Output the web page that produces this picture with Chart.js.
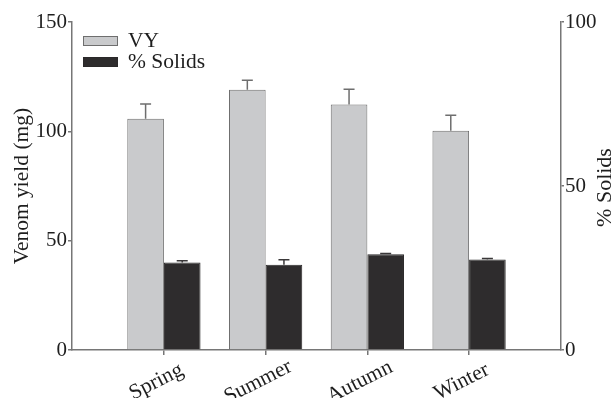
<!DOCTYPE html>
<html>
<head>
<meta charset="utf-8">
<script src="https://cdn.jsdelivr.net/npm/chart.js@4"></script>
<style>
  html, body { margin: 0; padding: 0; background: #fff; }
  #wrap { width: 611px; height: 398px; }
</style>
</head>
<body>
<div id="wrap"><canvas id="c" width="611" height="398"></canvas></div>
<script>
// Seasonal venom yield (mg) and percentage of solids, mean with upper SE bars
const seasons = ['Spring', 'Summer', 'Autumn', 'Winter'];
const venomYield = [105.8, 119.0, 112.3, 100.3];
const venomYieldErr = [6.7, 4.4, 7.0, 7.1];
const solidsPct = [26.7, 26.0, 29.2, 27.6];
const solidsPctErr = [0.5, 1.5, 0.2, 0.3];
const yieldTicks = [0, 50, 100, 150];
const solidsTicks = [0, 50, 100];

const SERIF = '"Liberation Serif", "Times New Roman", serif';
const AXIS_GREY = '#767676';
const TEXT = '#1e1e1e';
const LABEL_SIZE = 21.5;

// Upper-only error bars with a cap
const errorBars = {
  id: 'errorBars',
  afterDatasetsDraw(chart) {
    const ctx = chart.ctx;
    chart.data.datasets.forEach((ds, di) => {
      const meta = chart.getDatasetMeta(di);
      const yScale = chart.scales[ds.yAxisID];
      meta.data.forEach((bar, i) => {
        const v = ds.data[i].y, e = ds.errors[i];
        const yTop = yScale.getPixelForValue(v + e);
        ctx.save();
        ctx.strokeStyle = ds.errorColor;
        ctx.lineWidth = 1.5;
        ctx.beginPath();
        ctx.moveTo(bar.x, bar.y);
        ctx.lineTo(bar.x, yTop);
        ctx.moveTo(bar.x - 5.5, yTop);
        ctx.lineTo(bar.x + 5.5, yTop);
        ctx.stroke();
        ctx.restore();
      });
    });
  }
};

// Slanted season names centred under their ticks, legend, right axis title
const extras = {
  id: 'extras',
  afterDraw(chart) {
    const ctx = chart.ctx;
    const area = chart.chartArea;
    const xs = chart.scales.x;
    ctx.save();
    ctx.fillStyle = TEXT;
    ctx.font = LABEL_SIZE + 'px ' + SERIF;
    ctx.textAlign = 'center';
    ctx.textBaseline = 'alphabetic';
    xs.ticks.forEach((t, i) => {
      const px = xs.getPixelForValue(t.value);
      ctx.save();
      ctx.translate(px - 5, 387);
      ctx.rotate(-27 * Math.PI / 180);
      ctx.fillText(seasons[i], 0, 0);
      ctx.restore();
    });

    chart.data.datasets.forEach((ds, i) => {
      const y = 36 + i * 21;
      ctx.fillStyle = ds.backgroundColor;
      ctx.fillRect(83, y, 35, 10);
      ctx.strokeStyle = ds.borderColor;
      ctx.lineWidth = 1;
      ctx.strokeRect(83.5, y + 0.5, 34, 9);
      ctx.fillStyle = TEXT;
      ctx.textAlign = 'left';
      ctx.textBaseline = 'middle';
      ctx.fillText(ds.label, 128, y + 5);
    });

    // right-hand axis title, reading bottom to top
    ctx.translate(605, (area.top + area.bottom) / 2 + 1.5);
    ctx.rotate(-Math.PI / 2);
    ctx.textAlign = 'center';
    ctx.textBaseline = 'middle';
    ctx.font = '22px ' + SERIF;
    ctx.fillStyle = TEXT;
    ctx.fillText('% Solids', 0, 0);
    ctx.restore();
  }
};

const baseGrid = { drawOnChartArea: false, offset: false, color: AXIS_GREY, lineWidth: 1.5 };
const baseBorder = { display: true, color: AXIS_GREY, width: 1.5 };

new Chart(document.getElementById('c'), {
  type: 'bar',
  data: {
    datasets: [
      {
        label: 'VY',
        data: seasons.map((s, i) => ({ x: i + 1, y: venomYield[i] })),
        errors: venomYieldErr,
        yAxisID: 'y',
        backgroundColor: '#c9cacc',
        borderColor: '#6e6e6e',
        borderWidth: 1,
        errorColor: '#6e6e6e'
      },
      {
        label: '% Solids',
        data: seasons.map((s, i) => ({ x: i + 1, y: solidsPct[i] })),
        errors: solidsPctErr,
        yAxisID: 'y1',
        backgroundColor: '#2e2c2d',
        borderColor: '#2a2829',
        borderWidth: 1,
        errorColor: '#3a3839'
      }
    ]
  },
  options: {
    responsive: false,
    animation: false,
    devicePixelRatio: 1,
    layout: { padding: { top: 22, left: 0, right: 0, bottom: 0 } },
    datasets: { bar: { barPercentage: 1, categoryPercentage: 0.72 } },
    plugins: { legend: { display: false }, tooltip: { enabled: false } },
    scales: {
      x: {
        type: 'linear',
        offset: false,
        min: 0.0965,
        max: 4.9035,
        afterBuildTicks: s => { s.ticks = seasons.map((_, i) => ({ value: i + 1 })); },
        afterFit: s => { s.height = 48; },
        grid: Object.assign({}, baseGrid, { tickLength: 5 }),
        border: baseBorder,
        ticks: { display: false }
      },
      y: {
        position: 'left',
        min: 0,
        max: 150,
        afterBuildTicks: s => { s.ticks = yieldTicks.map(v => ({ value: v })); },
        afterFit: s => { s.width = 72; },
        grid: Object.assign({}, baseGrid, { tickLength: 4 }),
        border: baseBorder,
        ticks: { padding: 1, color: TEXT, font: { family: SERIF, size: 21 } },
        title: {
          display: true,
          text: 'Venom yield (mg)',
          color: TEXT,
          font: { family: SERIF, size: LABEL_SIZE },
          padding: { top: 9.5, bottom: 0 }
        }
      },
      y1: {
        position: 'right',
        min: 0,
        max: 100,
        afterBuildTicks: s => { s.ticks = solidsTicks.map(v => ({ value: v })); },
        afterFit: s => { s.width = 50; },
        grid: Object.assign({}, baseGrid, { tickLength: 3 }),
        border: baseBorder,
        ticks: { padding: 1, color: TEXT, font: { family: SERIF, size: 21 } }
      }
    }
  },
  plugins: [errorBars, extras]
});
</script>
</body>
</html>
